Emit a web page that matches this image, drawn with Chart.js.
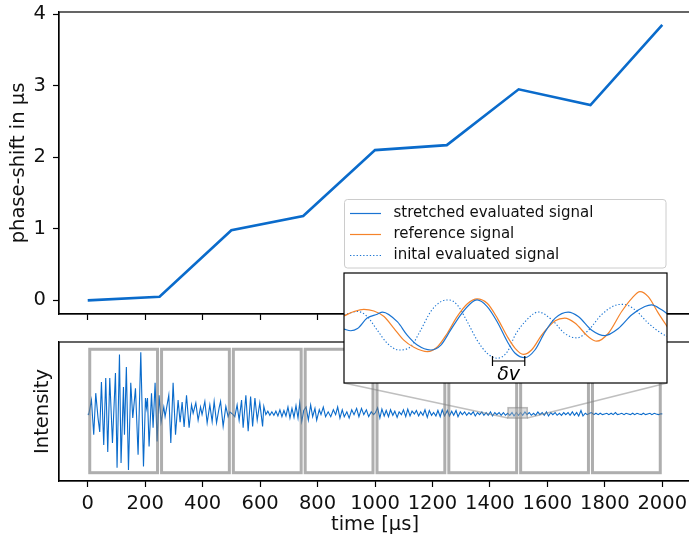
<!DOCTYPE html>
<html><head><meta charset="utf-8">
<script src="https://cdn.jsdelivr.net/npm/chart.js@4.4.0/dist/chart.umd.min.js"></script>
<style>
html,body{margin:0;padding:0;background:#fff;overflow:hidden;width:689px;height:536px;position:relative;}
canvas{position:absolute;display:block;}
</style></head><body>
<canvas id="topChart" width="700" height="330" style="left:0;top:0;"></canvas>
<canvas id="botChart" width="700" height="206" style="left:0;top:330px;"></canvas>
<canvas id="insChart" width="332" height="193" style="left:340px;top:195px;"></canvas>
<script>
// ---------- data ----------
const xTickValues = [0, 200, 400, 600, 800, 1000, 1200, 1400, 1600, 1800, 2000];
const phaseTicks = [0, 1, 2, 3, 4];
const phaseTime = [0, 250, 500, 750, 1000, 1250, 1500, 1750, 2000];
const phaseShift = [0, 0.05, 0.98, 1.18, 2.10, 2.17, 2.95, 2.73, 3.85];

const waveTime = [
 0, 3.5, 12.9, 20.9, 27.9, 35.9, 41.8, 47.7, 55.7, 62.7,
 69.7, 76.7, 86.1, 96.5, 102.1, 110.5, 116, 124.4, 127.9, 134.5,
 141.8, 149.8, 156.8, 166.2, 175.3, 184.7, 194.1, 201, 204.5, 208,
 213.6, 222, 227.5, 234.5, 241.5, 248.4, 255.4, 264.8, 269.3, 282.2,
 289.2, 297.2, 305.6, 314.6, 321.6, 328.6, 335.5, 343.9, 352.9, 361.3,
 367, 376.3, 384.3, 392.7, 398, 407.7, 415.7, 425.1, 433.1, 440.1,
 448.4, 457.5, 462.4, 471.4, 480.8, 488.8, 494.8, 506, 512, 520,
 527, 535.5, 541, 550.5, 558.5, 567, 574, 582, 590, 599,
 608.7, 613, 620, 627, 634, 641, 648, 655, 662, 669,
 676, 683, 690, 697, 704, 711, 718, 725, 732, 738,
 745, 752, 760, 768, 776, 783, 791, 797, 806, 812,
 820, 828, 837, 846, 855, 863, 870, 878, 886, 893,
 902, 910, 919, 927, 936, 944, 953, 961, 970, 978,
 987, 995, 1002, 1009, 1017, 1024, 1032, 1039, 1047, 1054,
 1062, 1069, 1077, 1084, 1092, 1099, 1107, 1114, 1122, 1129,
 1137, 1144, 1152, 1159, 1167, 1174, 1182, 1189, 1197, 1204,
 1212, 1219, 1227, 1234, 1242, 1252, 1259, 1267, 1274, 1282,
 1289, 1297, 1304, 1312, 1319, 1327, 1334, 1342, 1349, 1357,
 1364, 1372, 1379, 1387, 1394, 1402, 1409, 1417, 1424, 1432,
 1439, 1447, 1454, 1462, 1469, 1477, 1484, 1492, 1499, 1507,
 1514, 1522, 1529, 1537, 1544, 1552, 1559, 1567, 1574, 1582,
 1589, 1597, 1604, 1612, 1619, 1627, 1634, 1642, 1649, 1657,
 1664, 1672, 1679, 1687, 1694, 1702, 1709, 1717, 1724, 1732,
 1739, 1747, 1754, 1762, 1769, 1777, 1784, 1792, 1799, 1807,
 1814, 1822, 1829, 1837, 1844, 1852, 1859, 1867, 1874, 1882,
 1889, 1897, 1904, 1912, 1919, 1927, 1934, 1942, 1949, 1957,
 1964, 1972, 1979, 1987, 1994, 2000
];
const waveIntensity = [
 0, -0.01, 0.20, -0.30, 0.30, -0.06, -0.26, 0.46, -0.45, 0.52,
 -0.55, 0.52, -0.42, 0.59, -0.78, 0.86, -0.71, 0.39, -0.30, 0.68,
 -0.81, 0.45, -0.06, 0.37, -0.59, 0.89, -0.76, 0.23, 0.09, 0.23,
 -0.47, 0.30, -0.20, 0.45, -0.40, 0.27, -0.12, 0.10, -0.04, 0.27,
 -0.42, 0.45, -0.30, 0.20, -0.12, 0.17, -0.19, 0.27, -0.20, 0.13,
 0.01, 0.16, -0.09, 0.10, -0.01, 0.18, -0.13, 0.13, -0.11, 0.18,
 -0.13, 0.09, 0.18, -0.18, 0.11, -0.04, 0.03, -0.01, -0.04, 0.13,
 -0.09, 0.20, -0.20, 0.27, -0.25, 0.25, -0.18, 0.23, -0.09, 0.16,
 -0.18, 0.11, -0.01, 0.04, -0.02, 0.03, -0.02, 0.04, -0.03, 0.06,
 -0.04, 0.05, -0.03, 0.10, -0.06, 0.08, -0.05, 0.12, -0.06, 0.16,
 -0.11, 0.05, 0.10, -0.09, 0.13, -0.04, 0.08, -0.09, 0.06, -0.01,
 0.10, -0.04, 0.03, -0.04, 0.06, -0.01, 0.10, -0.06, 0.06, -0.04,
 0.03, -0.06, 0.06, -0.01, 0.08, -0.04, 0.08, -0.01, 0.06, -0.04,
 0.03, -0.01, 0.02, 0.09, -0.06, 0.07, -0.03, 0.05, -0.04, 0.06,
 -0.02, 0.04, -0.05, 0.03, -0.01, 0.06, -0.04, 0.07, -0.03, 0.04,
 0.00, 0.05, -0.03, 0.03, -0.02, 0.06, -0.05, 0.05, -0.02, 0.02,
 -0.03, 0.05, -0.04, 0.06, -0.03, 0.05, -0.03, 0.04, -0.02, 0.05,
 -0.04, 0.03, -0.01, 0.03, -0.02, 0.02, -0.01, 0.03, -0.03, 0.02,
 -0.01, 0.03, -0.02, 0.02, -0.02, 0.03, -0.03, 0.02, -0.01, 0.02,
 -0.02, 0.02, -0.02, 0.01, -0.02, 0.02, -0.03, 0.02, -0.02, 0.02,
 -0.02, 0.03, -0.01, 0.02, -0.02, 0.01, -0.02, 0.03, -0.01, 0.02,
 -0.02, 0.03, -0.03, 0.02, -0.01, 0.02, -0.02, 0.01, -0.02, 0.02,
 -0.01, 0.02, -0.02, 0.03, -0.02, 0.02, -0.03, 0.05, -0.03, 0.01,
 -0.01, 0.01, 0.02, -0.01, 0.01, -0.01, 0.01, -0.01, 0.00, 0.01,
 -0.01, 0.01, -0.01, 0.02, -0.01, 0.00, 0.01, -0.01, 0.01, 0.00,
 -0.01, 0.01, -0.01, 0.01, 0.00, -0.01, 0.01, -0.01, 0.00, 0.01,
 -0.01, 0.01, 0.00, -0.01, 0.00, 0.00
];

// evaluation windows (time) and their intensity extent
const windowStart = [7, 257, 507, 757, 1007, 1257, 1507, 1757];
const windowEnd = [243, 493, 743, 993, 1243, 1493, 1743, 1993];
const windowIntensity = [-0.85, 0.935];

// zoomed region shown in the inset
const zoomTime = [1463, 1530];
const zoomIntensity = [-0.06, 0.09];

const stretchedTime = [1463, 1464.4, 1465.8, 1467.8, 1469.9, 1471, 1474.1, 1476.1, 1478.2, 1481, 1483.1, 1485.1, 1487.2, 1489.3, 1490.6, 1492.7, 1494.8, 1496.9, 1498.5, 1500.5, 1502.6, 1504.7, 1506.8, 1509.5, 1511.6, 1514.4, 1517.1, 1519.9, 1522.7, 1525.4, 1526.8, 1528.9, 1530.3];
const stretchedValue = [-0.02, -0.05, -0.01, 0.18, 0.25, 0.29, 0.11, -0.13, -0.31, -0.40, -0.31, -0.04, 0.24, 0.45, 0.51, 0.39, 0.11, -0.25, -0.46, -0.54, -0.40, -0.07, 0.18, 0.29, 0.21, -0.04, -0.14, -0.01, 0.24, 0.39, 0.42, 0.33, 0.24];
const referenceTime = [1463, 1465.1, 1467.1, 1469.2, 1471.3, 1473.4, 1475.4, 1477.5, 1480.3, 1482.4, 1484.4, 1486.5, 1488.6, 1490.6, 1492.7, 1494.8, 1496.9, 1498.5, 1500.2, 1501.9, 1504, 1506.8, 1508.8, 1510.9, 1513.7, 1515.4, 1517.8, 1520.6, 1522.7, 1524.4, 1526.1, 1528.2, 1530.3];
const referenceValue = [0.22, 0.30, 0.34, 0.31, 0.21, -0.01, -0.22, -0.35, -0.43, -0.34, -0.10, 0.21, 0.44, 0.53, 0.45, 0.18, -0.16, -0.37, -0.48, -0.40, -0.13, 0.13, 0.18, 0.09, -0.16, -0.24, -0.10, 0.30, 0.54, 0.66, 0.57, 0.27, -0.01];
const initialTime = [1463, 1465.8, 1467.8, 1469.9, 1472, 1474.4, 1476.8, 1478.9, 1481, 1483.1, 1484.8, 1486.5, 1488.6, 1490.6, 1492.7, 1494.8, 1496.9, 1498.5, 1500.5, 1503.3, 1506.1, 1508.8, 1511.3, 1513.7, 1516.4, 1519.2, 1520.9, 1523.4, 1526.1, 1528.9, 1530.3];
const initialValue = [0.24, 0.30, 0.21, -0.04, -0.28, -0.40, -0.34, -0.04, 0.30, 0.48, 0.51, 0.42, 0.11, -0.22, -0.46, -0.55, -0.43, -0.13, 0.11, 0.29, 0.15, -0.10, -0.18, -0.04, 0.24, 0.41, 0.43, 0.33, 0.09, -0.10, -0.16];
const deltaTime = [1493.8, 1500.5];
const deltaLevel = -0.60;
const deltaLabelLevel = -0.85;

// ---------- styling ----------
const BLUE = '#0a6bcb';
const IBLUE = '#1a74d2';
const ORANGE = '#f5832a';
const FONT = "'DejaVu Sans', 'Liberation Sans', sans-serif";
const FS = 19.5;
Chart.defaults.font.family = FONT;
Chart.defaults.color = '#111';

const pts = (xs, ys) => xs.map((x, i) => ({x: x, y: ys[i]}));
const setTicks = (vals) => (s) => { s.ticks = vals.map(v => ({value: v})); };
const plainLabel = (v) => String(v);

const framePlugin = {
  id: 'frame',
  afterDraw(c) {
    const {left, top, right, bottom} = c.chartArea;
    const ctx = c.ctx;
    ctx.save();
    ctx.strokeStyle = '#000';
    ctx.lineWidth = 1.2;
    ctx.strokeRect(left, top, right - left, bottom - top);
    ctx.restore();
  }
};

const axisGrid = {drawOnChartArea: false, tickLength: 6, color: '#000', tickWidth: 1.2};
const axisBorder = {color: '#000', width: 1.2};
const noPadY = (w) => (s) => { s.width = w; s.paddingTop = 0; s.paddingBottom = 0; };
const noPadX = (h) => (s) => { s.height = h; s.paddingLeft = 0; s.paddingRight = 0; };

// ---------- top chart ----------
new Chart(document.getElementById('topChart'), {
  type: 'line',
  data: {datasets: [{data: pts(phaseTime, phaseShift), borderColor: BLUE, borderWidth: 2.6, pointRadius: 0, tension: 0, fill: false}]},
  options: {
    responsive: false, animation: false, events: [],
    layout: {padding: {top: 12, right: 9, left: 0, bottom: 0}},
    plugins: {legend: {display: false}, tooltip: {enabled: false}},
    scales: {
      x: {type: 'linear', min: -100, max: 2100, afterBuildTicks: setTicks(xTickValues),
          afterFit: noPadX(16), ticks: {display: false}, grid: axisGrid, border: axisBorder},
      y: {type: 'linear', min: -0.19, max: 4.03, afterBuildTicks: setTicks(phaseTicks),
          afterFit: noPadY(59),
          ticks: {font: {size: FS}, padding: 7, color: '#111', callback: plainLabel}, grid: axisGrid, border: axisBorder,
          title: {display: true, text: 'phase-shift in µs', font: {size: FS}, padding: {top: 7, bottom: 0}, color: '#111'}}
    }
  },
  plugins: [framePlugin]
});

// ---------- inset chart ----------
const INSET_LEFT = 340, INSET_TOP = 195, BOT_TOP = 330;
const insetStyles = [
  {color: IBLUE, width: 1.2, dash: []},
  {color: ORANGE, width: 1.2, dash: []},
  {color: IBLUE, width: 1.1, dash: [1.3, 2]}
];
const insetDecor = {
  id: 'insetDecor',
  beforeDraw(c) {
    const ctx = c.ctx, a = c.chartArea, lg = c.legend;
    ctx.save();
    const fx = a.left + 0.5, fy = lg.top - 0.5, fw = a.right - a.left - 1.5, fh = a.top - 5 - fy;
    ctx.beginPath();
    ctx.roundRect(fx, fy, fw, fh, 3);
    ctx.fillStyle = 'rgba(255,255,255,0.85)';
    ctx.fill();
    ctx.strokeStyle = '#cccccc';
    ctx.lineWidth = 1;
    ctx.stroke();
    ctx.fillStyle = '#fff';
    ctx.fillRect(a.left, a.top, a.right - a.left, a.bottom - a.top);
    ctx.restore();
  },
  afterDraw(c) {
    const ctx = c.ctx, xs = c.scales.x, ys = c.scales.y;
    ctx.save();
    // legend line samples
    const boxes = c.legend.legendHitBoxes || [];
    boxes.forEach((b, i) => {
      const st = insetStyles[i];
      const yy = b.top + b.height / 2;
      ctx.beginPath();
      ctx.setLineDash(st.dash);
      ctx.strokeStyle = st.color;
      ctx.lineWidth = st.width;
      ctx.moveTo(b.left, yy);
      ctx.lineTo(b.left + 31, yy);
      ctx.stroke();
    });
    ctx.setLineDash([]);
    // delta-v marker
    const x1 = xs.getPixelForValue(deltaTime[0]), x2 = xs.getPixelForValue(deltaTime[1]);
    const y = ys.getPixelForValue(deltaLevel);
    ctx.strokeStyle = '#000';
    ctx.lineWidth = 1.2;
    ctx.beginPath();
    ctx.moveTo(x1, y); ctx.lineTo(x2, y);
    ctx.moveTo(x1, y - 5); ctx.lineTo(x1, y + 5);
    ctx.moveTo(x2, y - 5); ctx.lineTo(x2, y + 5);
    ctx.stroke();
    ctx.fillStyle = '#000';
    ctx.font = "italic 19px " + FONT;
    ctx.textAlign = 'center';
    ctx.textBaseline = 'middle';
    ctx.fillText('δv', (x1 + x2) / 2, ys.getPixelForValue(deltaLabelLevel));
    const {left, top, right, bottom} = c.chartArea;
    ctx.lineWidth = 1.2;
    ctx.strokeRect(left, top, right - left, bottom - top);
    ctx.restore();
  }
};

const insetChart = new Chart(document.getElementById('insChart'), {
  type: 'line',
  data: {datasets: [
    {label: 'stretched evaluated signal', data: pts(stretchedTime, stretchedValue), borderColor: IBLUE, borderWidth: 1.2, pointRadius: 0, cubicInterpolationMode: 'monotone', fill: false},
    {label: 'reference signal', data: pts(referenceTime, referenceValue), borderColor: ORANGE, borderWidth: 1.2, pointRadius: 0, cubicInterpolationMode: 'monotone', fill: false},
    {label: 'inital evaluated signal', data: pts(initialTime, initialValue), borderColor: IBLUE, borderWidth: 1.1, borderDash: [1.3, 2], pointRadius: 0, cubicInterpolationMode: 'monotone', fill: false}
  ]},
  options: {
    responsive: false, animation: false, events: [],
    layout: {padding: {top: 5, right: 5, left: 4, bottom: 5}},
    plugins: {
      tooltip: {enabled: false},
      legend: {display: true, position: 'top', align: 'start',
        labels: {usePointStyle: true, pointStyle: 'line', pointStyleWidth: 36, padding: 6, color: '#111', font: {size: 15},
          generateLabels: (chart) => Chart.defaults.plugins.legend.labels.generateLabels(chart).map(it => Object.assign({}, it, {strokeStyle: 'rgba(0,0,0,0)', fillStyle: 'rgba(0,0,0,0)'}))}}
    },
    scales: {
      x: {type: 'linear', display: false, min: zoomTime[0], max: zoomTime[1]},
      y: {type: 'linear', display: false, min: -1, max: 1}
    }
  },
  plugins: [insetDecor]
});

// ---------- bottom chart ----------
const bottomDecor = {
  id: 'bottomDecor',
  afterDatasetsDraw(c) {
    const ctx = c.ctx, xs = c.scales.x, ys = c.scales.y;
    ctx.save();
    ctx.strokeStyle = 'rgba(120,120,120,0.6)';
    ctx.lineWidth = 3;
    const yt = ys.getPixelForValue(windowIntensity[1]), yb = ys.getPixelForValue(windowIntensity[0]);
    for (let i = 0; i < windowStart.length; i++) {
      const x1 = xs.getPixelForValue(windowStart[i]), x2 = xs.getPixelForValue(windowEnd[i]);
      ctx.strokeRect(x1, yt, x2 - x1, yb - yt);
    }
    const zx1 = xs.getPixelForValue(zoomTime[0]), zx2 = xs.getPixelForValue(zoomTime[1]);
    const zy1 = ys.getPixelForValue(zoomIntensity[1]), zy2 = ys.getPixelForValue(zoomIntensity[0]);
    ctx.fillStyle = 'rgba(180,180,180,0.45)';
    ctx.fillRect(zx1, zy1, zx2 - zx1, zy2 - zy1);
    ctx.strokeStyle = 'rgba(128,128,128,0.5)';
    ctx.lineWidth = 1.5;
    ctx.strokeRect(zx1, zy1, zx2 - zx1, zy2 - zy1);
    const ia = insetChart.chartArea;
    const dx = INSET_LEFT, dy = INSET_TOP - BOT_TOP;
    ctx.beginPath();
    ctx.moveTo(ia.left + dx, ia.bottom + dy); ctx.lineTo(zx1, zy2);
    ctx.moveTo(ia.right + dx, ia.bottom + dy); ctx.lineTo(zx2, zy2);
    ctx.stroke();
    ctx.restore();
  }
};

new Chart(document.getElementById('botChart'), {
  type: 'line',
  data: {datasets: [{data: pts(waveTime, waveIntensity), borderColor: BLUE, borderWidth: 1.1, pointRadius: 0, tension: 0, fill: false}]},
  options: {
    responsive: false, animation: false, events: [],
    layout: {padding: {top: 12, right: 9, left: 0, bottom: 0}},
    plugins: {legend: {display: false}, tooltip: {enabled: false}},
    scales: {
      x: {type: 'linear', min: -100, max: 2100, afterBuildTicks: setTicks(xTickValues),
          afterFit: noPadX(55),
          ticks: {font: {size: FS}, padding: 5, color: '#111', maxRotation: 0, autoSkip: false, callback: plainLabel},
          grid: axisGrid, border: axisBorder,
          title: {display: true, text: 'time [µs]', font: {size: FS}, padding: {top: 0, bottom: -1}, color: '#111'}},
      y: {type: 'linear', min: -0.97, max: 1.04, afterFit: noPadY(59),
          ticks: {display: false}, grid: {display: false}, border: axisBorder,
          title: {display: true, text: 'Intensity', font: {size: FS}, padding: {top: 31, bottom: 0}, color: '#111'}}
    }
  },
  plugins: [framePlugin, bottomDecor]
});
</script>
</body></html>
